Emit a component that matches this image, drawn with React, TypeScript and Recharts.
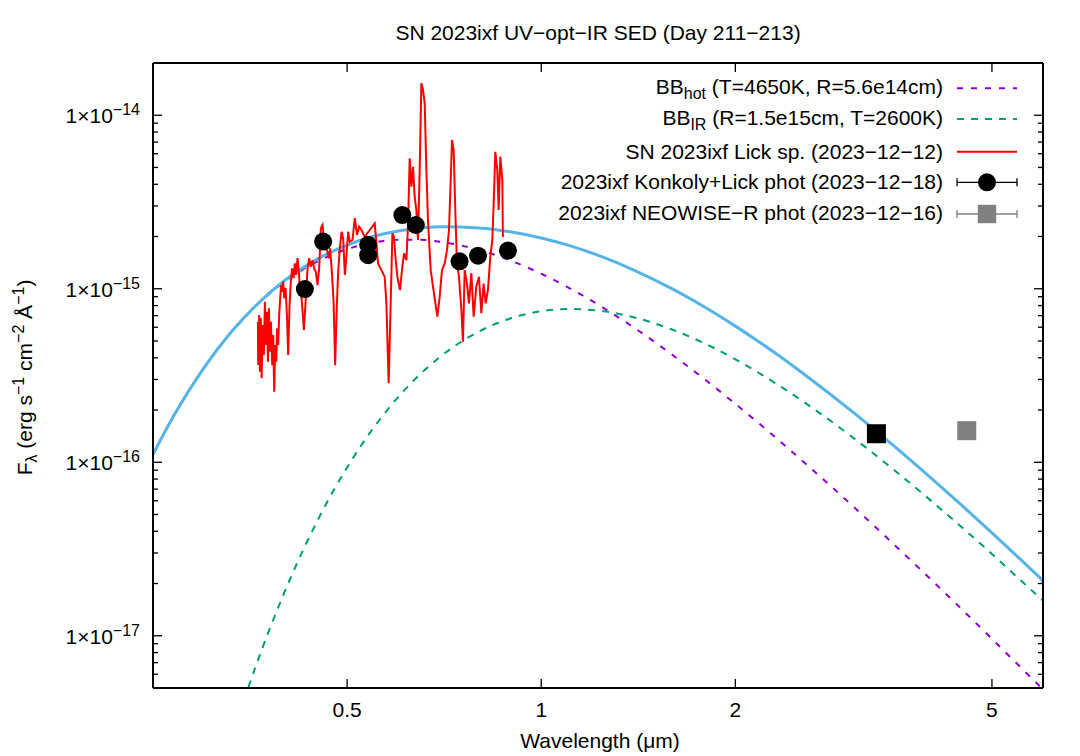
import React from 'react';
import { ComposedChart, Line, Scatter, XAxis, YAxis, Legend } from 'recharts';

const FONT = '"Liberation Sans", Arial, Helvetica, sans-serif';

// ---------- axis ticks ----------
const xTicks = [0.5, 1, 2, 5];
const xTickLabels = ['0.5', '1', '2', '5'];
const yMajorTicks = [1e-17, 1e-16, 1e-15, 1e-14];
const yMajorExponents = ['−17', '−16', '−15', '−14'];
const yMinorTicks = [
  6e-18, 7e-18, 8e-18, 9e-18,
  2e-17, 3e-17, 4e-17, 5e-17, 6e-17, 7e-17, 8e-17, 9e-17,
  2e-16, 3e-16, 4e-16, 5e-16, 6e-16, 7e-16, 8e-16, 9e-16,
  2e-15, 3e-15, 4e-15, 5e-15, 6e-15, 7e-15, 8e-15, 9e-15,
];

// ---------- blackbody curves (wavelength in micron, F_lambda) ----------
const bbWave = [0.25, 0.27, 0.3, 0.33, 0.36, 0.4, 0.45, 0.5, 0.55, 0.6, 0.65, 0.7, 0.8, 0.9, 1.0,
  1.1, 1.25, 1.4, 1.6, 1.8, 2.0, 2.3, 2.6, 3.0, 3.5, 4.0, 4.5, 5.0, 5.5, 6.0];
const bbHotFlux = [1.11e-16, 1.89e-16, 3.51e-16, 5.56e-16, 7.87e-16, 1.097e-15, 1.439e-15, 1.692e-15, 1.847e-15, 1.914e-15,
  1.913e-15, 1.862e-15, 1.675e-15, 1.445e-15, 1.22e-15, 1.019e-15, 7.74e-16, 5.89e-16, 4.14e-16, 2.97e-16,
  2.17e-16, 1.406e-16, 9.46e-17, 5.86e-17, 3.44e-17, 2.15e-17, 1.41e-17, 9.6e-18, 6.76e-18, 4.9e-18];
const bbSumFlux = [1.11e-16, 1.89e-16, 3.51e-16, 5.59e-16, 7.93e-16, 1.115e-15, 1.486e-15, 1.785e-15, 2.006e-15, 2.152e-15,
  2.237e-15, 2.273e-15, 2.241e-15, 2.123e-15, 1.962e-15, 1.783e-15, 1.515e-15, 1.269e-15, 9.94e-16, 7.77e-16,
  6.09e-16, 4.29e-16, 3.07e-16, 2.03e-16, 1.267e-16, 8.26e-17, 5.6e-17, 3.92e-17, 2.82e-17, 2.08e-17];
const irWave = [0.33, 0.36, 0.4, 0.45, 0.5, 0.55, 0.6, 0.65, 0.7, 0.8, 0.9, 1.0, 1.1, 1.25,
  1.4, 1.6, 1.8, 2.0, 2.3, 2.6, 3.0, 3.5, 4.0, 4.5, 5.0, 5.5, 6.0];
const irFlux = [2.49e-18, 6.52e-18, 1.79e-17, 4.63e-17, 9.34e-17, 1.587e-16, 2.375e-16, 3.236e-16, 4.105e-16, 5.66e-16,
  6.78e-16, 7.42e-16, 7.64e-16, 7.41e-16, 6.81e-16, 5.8e-16, 4.8e-16, 3.92e-16, 2.88e-16, 2.127e-16,
  1.445e-16, 9.22e-17, 6.11e-17, 4.19e-17, 2.96e-17, 2.14e-17, 1.59e-17];

// ---------- Lick spectrum ----------
const specWave = [
  0.3636, 0.3640, 0.3653, 0.3662, 0.3675, 0.3684, 0.3701, 0.3714, 0.3728, 0.3741,
  0.3755, 0.3769, 0.3782, 0.3795, 0.3809, 0.3827, 0.3840, 0.3854, 0.3868, 0.3882,
  0.3895, 0.3909, 0.3923, 0.3937, 0.3951, 0.3965, 0.3980, 0.3994, 0.4014, 0.4033,
  0.4051, 0.4071, 0.4090, 0.4109, 0.4130, 0.4149, 0.4168, 0.4189, 0.4208, 0.4228,
  0.4250, 0.4285, 0.4311, 0.4342, 0.4366, 0.4393, 0.4420, 0.4445, 0.4472, 0.4499,
  0.4525, 0.4553, 0.4580, 0.4607, 0.4635, 0.4663, 0.4685, 0.4706, 0.4735, 0.4764,
  0.4791, 0.4820, 0.4843, 0.4872, 0.4902, 0.4930, 0.4960, 0.4989, 0.5018, 0.5048,
  0.5097, 0.5139, 0.5181, 0.5218, 0.5263, 0.5325, 0.5421, 0.5518, 0.5552, 0.5583,
  0.5651, 0.5718, 0.5753, 0.5800, 0.5842, 0.5877, 0.5911, 0.5941, 0.5983, 0.6039,
  0.6082, 0.6126, 0.6179, 0.6214, 0.6252, 0.6290, 0.6326, 0.6364, 0.6403, 0.6440,
  0.6479, 0.6518, 0.6556, 0.6596, 0.6636, 0.6674, 0.6739, 0.6794, 0.6853, 0.6902,
  0.6959, 0.7016, 0.7084, 0.7143, 0.7194, 0.7238, 0.7271, 0.7315, 0.7360, 0.7402,
  0.7455, 0.7519, 0.7562, 0.7608, 0.7671, 0.7726, 0.7792, 0.7856, 0.7932, 0.8006,
  0.8075, 0.8141, 0.8199, 0.8267, 0.8338, 0.8398, 0.8446, 0.8488, 0.8549, 0.8589,
  0.8641, 0.8703, 0.8721,
];
const specFlux = [
  6.45e-16, 3.63e-16, 7.06e-16, 3.32e-16, 6.75e-16, 3.05e-16, 6.18e-16, 4.15e-16, 8.42e-16, 4.74e-16,
  7.37e-16, 3.80e-16, 7.71e-16, 4.34e-16, 6.45e-16, 3.63e-16, 5.41e-16, 2.55e-16, 4.74e-16, 3.80e-16,
  5.91e-16, 4.74e-16, 7.06e-16, 8.81e-16, 1.05e-15, 9.61e-16, 1.10e-15, 8.81e-16, 1.01e-15, 7.06e-16,
  4.15e-16, 8.05e-16, 1.10e-15, 1.31e-15, 1.15e-15, 1.40e-15, 1.20e-15, 1.50e-15, 1.25e-15, 9.61e-16,
  8.81e-16, 5.78e-16, 8.42e-16, 1.31e-15, 1.50e-15, 1.34e-15, 1.46e-15, 1.31e-15, 1.25e-15, 1.05e-15,
  1.31e-15, 2.23e-15, 2.33e-15, 1.87e-15, 1.71e-15, 1.63e-15, 1.50e-15, 1.71e-15, 1.25e-15, 8.42e-16,
  3.63e-16, 8.05e-16, 1.25e-15, 1.71e-15, 2.13e-15, 1.95e-15, 1.20e-15, 1.56e-15, 2.13e-15, 1.87e-15,
  1.91e-15, 2.55e-15, 2.04e-15, 2.28e-15, 2.18e-15, 1.99e-15, 2.18e-15, 2.38e-15, 1.83e-15, 1.40e-15,
  1.28e-15, 1.17e-15, 8.24e-16, 2.85e-16, 8.24e-16, 2.09e-15, 1.99e-15, 1.53e-15, 1.17e-15, 9.83e-16,
  1.28e-15, 1.60e-15, 1.46e-15, 2.28e-15, 5.65e-15, 3.87e-15, 5.05e-15, 3.39e-15, 2.84e-15, 1.91e-15,
  4.83e-15, 1.53e-14, 1.40e-14, 1.17e-14, 4.83e-15, 2.49e-15, 1.28e-15, 1.03e-15, 8.24e-16, 6.90e-16,
  8.99e-16, 1.28e-15, 1.40e-15, 1.67e-15, 2.18e-15, 4.23e-15, 7.20e-15, 6.30e-15, 2.72e-15, 1.40e-15,
  1.17e-15, 7.54e-16, 4.95e-16, 1.28e-15, 1.07e-15, 8.24e-16, 1.23e-15, 6.90e-16, 1.03e-15, 1.17e-15,
  7.22e-16, 1.07e-15, 8.24e-16, 9.83e-16, 1.53e-15, 1.91e-15, 3.39e-15, 6.16e-15, 4.83e-15, 2.84e-15,
  5.77e-15, 4.23e-15, 1.99e-15,
];

// ---------- photometry ----------
const photWave = [0.430, 0.459, 0.539, 0.539, 0.609, 0.639, 0.747, 0.798, 0.888];
const photFlux = [9.96e-16, 1.87e-15, 1.79e-15, 1.56e-15, 2.66e-15, 2.33e-15, 1.44e-15, 1.55e-15, 1.66e-15];
const w1Wave = [3.31];
const w1Flux = [1.46e-16];
const neoWave = [4.57];
const neoFlux = [1.52e-16];

const zip = (w: number[], f: number[]) => w.map((x, i) => ({ w: x, f: f[i] }));
const hotData = zip(bbWave, bbHotFlux);
const sumData = zip(bbWave, bbSumFlux);
const irData = zip(irWave, irFlux);
const specData = zip(specWave, specFlux);
const photData = zip(photWave, photFlux);
const w1Data = zip(w1Wave, w1Flux);
const neoData = zip(neoWave, neoFlux);

const COLORS = {
  hot: '#9400D3',
  ir: '#009E73',
  sum: '#56B4E9',
  spec: '#FF0000',
  phot: '#000000',
  neo: '#808080',
};

const W = 1080;
const H = 756;
const PLOT = { left: 153, top: 63, right: 1043, bottom: 688 };

const yTicksAll = [...yMinorTicks, ...yMajorTicks].sort((a, b) => a - b);

const makeYTick = (side: 'left' | 'right') => (props: any) => {
  const { x, y, payload } = props;
  const idx = yMajorTicks.indexOf(payload.value);
  const major = idx >= 0;
  const len = major ? 9 : 5;
  const dir = side === 'left' ? 1 : -1;
  return (
    <g>
      <line x1={x} x2={x + dir * len} y1={y} y2={y} stroke="#000" strokeWidth={1.3} />
      {side === 'left' && major && (
        <text x={x - 13} y={y + 8} textAnchor="end" fontSize={21} fontFamily={FONT} fill="#000">
          1×10<tspan dy={-8} fontSize={16}>{yMajorExponents[idx]}</tspan>
        </text>
      )}
    </g>
  );
};

const makeXTick = (side: 'bottom' | 'top') => (props: any) => {
  const { x, y, payload } = props;
  const idx = xTicks.indexOf(payload.value);
  const dir = side === 'bottom' ? -1 : 1;
  return (
    <g>
      <line x1={x} x2={x} y1={y} y2={y + dir * 9} stroke="#000" strokeWidth={1.3} />
      {side === 'bottom' && idx >= 0 && (
        <text x={x} y={y + 29} textAnchor="middle" fontSize={21} fontFamily={FONT} fill="#000">
          {xTickLabels[idx]}
        </text>
      )}
    </g>
  );
};

const XAxisTitle = (props: any) => {
  const vb = props.viewBox || { x: PLOT.left, width: PLOT.right - PLOT.left };
  return (
    <text x={vb.x + vb.width / 2 + 2} y={748} textAnchor="middle" fontSize={21} fontFamily={FONT} fill="#000">
      Wavelength (μm)
    </text>
  );
};

const YAxisTitle = (props: any) => {
  const vb = props.viewBox || { y: PLOT.top, height: PLOT.bottom - PLOT.top };
  const cy = vb.y + vb.height / 2 + 2;
  const cx = 31.7;
  return (
    <text transform={`rotate(-90 ${cx} ${cy})`} x={cx} y={cy} textAnchor="middle" fontSize={21} fontFamily={FONT} fill="#000">
      F<tspan dy={5} fontSize={16}>λ</tspan>
      <tspan dy={-5}> (erg s</tspan>
      <tspan dy={-8} fontSize={16}>−1</tspan>
      <tspan dy={8}> cm</tspan>
      <tspan dy={-8} fontSize={16}>−2</tspan>
      <tspan dy={8}> Å</tspan>
      <tspan dy={-8} fontSize={16}>−1</tspan>
      <tspan dy={8}>)</tspan>
    </text>
  );
};

const chartTitle = 'SN 2023ixf UV−opt−IR SED (Day 211−213)';

const legendRows = [
  { main: 'BB', sub: 'hot', rest: ' (T=4650K, R=5.6e14cm)', kind: 'dash', color: COLORS.hot, dash: '6 8' },
  { main: 'BB', sub: 'IR', rest: ' (R=1.5e15cm, T=2600K)', kind: 'dash', color: COLORS.ir, dash: '7 7' },
  { main: 'SN 2023ixf Lick sp. (2023−12−12)', kind: 'line', color: COLORS.spec },
  { main: '2023ixf Konkoly+Lick phot (2023−12−18)', kind: 'circle', color: COLORS.phot },
  { main: '2023ixf NEOWISE−R phot (2023−12−16)', kind: 'square', color: COLORS.neo },
];

const LegendBox = () => {
  const baselines = [94, 124.5, 158.5, 189, 220];
  const sampleY = [88.3, 119, 151.7, 182.3, 214];
  const textX = 943;
  const x1 = 957;
  const x2 = 1017;
  const xm = (x1 + x2) / 2;
  return (
    <svg width={W} height={H} style={{ position: 'absolute', left: 0, top: 0, overflow: 'visible' }}>
      <text x={(PLOT.left + PLOT.right) / 2} y={40} textAnchor="middle" fontSize={21} fontFamily={FONT} fill="#000">
        {chartTitle}
      </text>
      {legendRows.map((r, i) => (
        <g key={i}>
          <text x={textX} y={baselines[i]} textAnchor="end" fontSize={21} fontFamily={FONT} fill="#000">
            {r.main}
            {r.sub && <tspan dy={5} fontSize={16}>{r.sub}</tspan>}
            {r.rest && <tspan dy={-5}>{r.rest}</tspan>}
          </text>
          {r.kind === 'dash' && (
            <line x1={x1} x2={x2} y1={sampleY[i]} y2={sampleY[i]} stroke={r.color} strokeWidth={2} strokeDasharray={r.dash} />
          )}
          {r.kind === 'line' && (
            <line x1={x1} x2={x2} y1={sampleY[i]} y2={sampleY[i]} stroke={r.color} strokeWidth={2} />
          )}
          {(r.kind === 'circle' || r.kind === 'square') && (
            <g stroke={r.color} strokeWidth={1.3}>
              <line x1={x1} x2={x2} y1={sampleY[i]} y2={sampleY[i]} />
              <line x1={x1} x2={x1} y1={sampleY[i] - 4} y2={sampleY[i] + 4} />
              <line x1={x2} x2={x2} y1={sampleY[i] - 4} y2={sampleY[i] + 4} />
            </g>
          )}
          {r.kind === 'circle' && <circle cx={xm} cy={sampleY[i]} r={9} fill={r.color} />}
          {r.kind === 'square' && <rect x={xm - 9.2} y={sampleY[i] - 9.2} width={18.4} height={18.4} fill={r.color} />}
        </g>
      ))}
    </svg>
  );
};

const circleShape = (p: any) => <circle cx={p.cx} cy={p.cy} r={9} fill={COLORS.phot} />;
const blackSquare = (p: any) => <rect x={p.cx - 9.5} y={p.cy - 9.5} width={19} height={19} fill="#000" />;
const graySquare = (p: any) => <rect x={p.cx - 9.5} y={p.cy - 9.5} width={19} height={19} fill={COLORS.neo} />;

export default function App() {
  return (
    <div style={{ position: 'absolute', left: 0, top: 0, width: W, height: H, background: '#fff', fontFamily: FONT }}>
      <ComposedChart
        width={W}
        height={H}
        margin={{ top: PLOT.top - 1, right: W - PLOT.right - 1, bottom: 0, left: 0 }}
      >
        <XAxis
          xAxisId="b"
          dataKey="w"
          type="number"
          scale="log"
          domain={[0.25, 6]}
          allowDataOverflow
          ticks={xTicks}
          interval={0}
          orientation="bottom"
          height={H - PLOT.bottom}
          tickSize={0}
          tickMargin={0}
          tickLine={false}
          axisLine={{ stroke: '#000', strokeWidth: 2 }}
          tick={makeXTick('bottom')}
          label={<XAxisTitle />}
        />
        <XAxis
          xAxisId="t"
          dataKey="w"
          type="number"
          scale="log"
          domain={[0.25, 6]}
          allowDataOverflow
          ticks={xTicks}
          interval={0}
          orientation="top"
          height={1}
          tickSize={0}
          tickMargin={0}
          tickLine={false}
          axisLine={{ stroke: '#000', strokeWidth: 2 }}
          tick={makeXTick('top')}
        />
        <YAxis
          yAxisId="l"
          dataKey="f"
          type="number"
          scale="log"
          domain={[5e-18, 2e-14]}
          allowDataOverflow
          ticks={yTicksAll}
          interval={0}
          orientation="left"
          width={PLOT.left}
          tickSize={0}
          tickMargin={0}
          tickLine={false}
          axisLine={{ stroke: '#000', strokeWidth: 2 }}
          tick={makeYTick('left')}
          label={<YAxisTitle />}
        />
        <YAxis
          yAxisId="r"
          dataKey="f"
          type="number"
          scale="log"
          domain={[5e-18, 2e-14]}
          allowDataOverflow
          ticks={yTicksAll}
          interval={0}
          orientation="right"
          width={1}
          tickSize={0}
          tickMargin={0}
          tickLine={false}
          axisLine={{ stroke: '#000', strokeWidth: 2 }}
          tick={makeYTick('right')}
        />
        <Legend
          layout="vertical"
          align="center"
          verticalAlign="middle"
          wrapperStyle={{ left: 0, top: 0, width: W, height: H, pointerEvents: 'none' }}
          content={() => <LegendBox />}
        />
        {/* invisible series bound to the mirror (top/right) axes so they get drawn */}
        <Line
          xAxisId="t" yAxisId="r" data={sumData} dataKey="f" type="monotone"
          stroke="none" strokeWidth={0} dot={false} activeDot={false} legendType="none"
          isAnimationActive={false}
        />
        <Line
          xAxisId="b" yAxisId="l" data={hotData} dataKey="f" type="monotone"
          stroke={COLORS.hot} strokeWidth={2} strokeDasharray="6 8" dot={false} activeDot={false}
          isAnimationActive={false}
        />
        <Line
          xAxisId="b" yAxisId="l" data={irData} dataKey="f" type="monotone"
          stroke={COLORS.ir} strokeWidth={2} strokeDasharray="7 7" dot={false} activeDot={false}
          isAnimationActive={false}
        />
        <Line
          xAxisId="b" yAxisId="l" data={sumData} dataKey="f" type="monotone"
          stroke={COLORS.sum} strokeWidth={3} dot={false} activeDot={false}
          isAnimationActive={false}
        />
        <Line
          xAxisId="b" yAxisId="l" data={specData} dataKey="f" type="linear"
          stroke={COLORS.spec} strokeWidth={2} dot={false} activeDot={false}
          isAnimationActive={false}
        />
        <Scatter xAxisId="b" yAxisId="l" data={photData} dataKey="f" shape={circleShape} isAnimationActive={false} />
        <Scatter xAxisId="b" yAxisId="l" data={w1Data} dataKey="f" shape={blackSquare} isAnimationActive={false} />
        <Scatter xAxisId="b" yAxisId="l" data={neoData} dataKey="f" shape={graySquare} isAnimationActive={false} />
      </ComposedChart>
    </div>
  );
}
